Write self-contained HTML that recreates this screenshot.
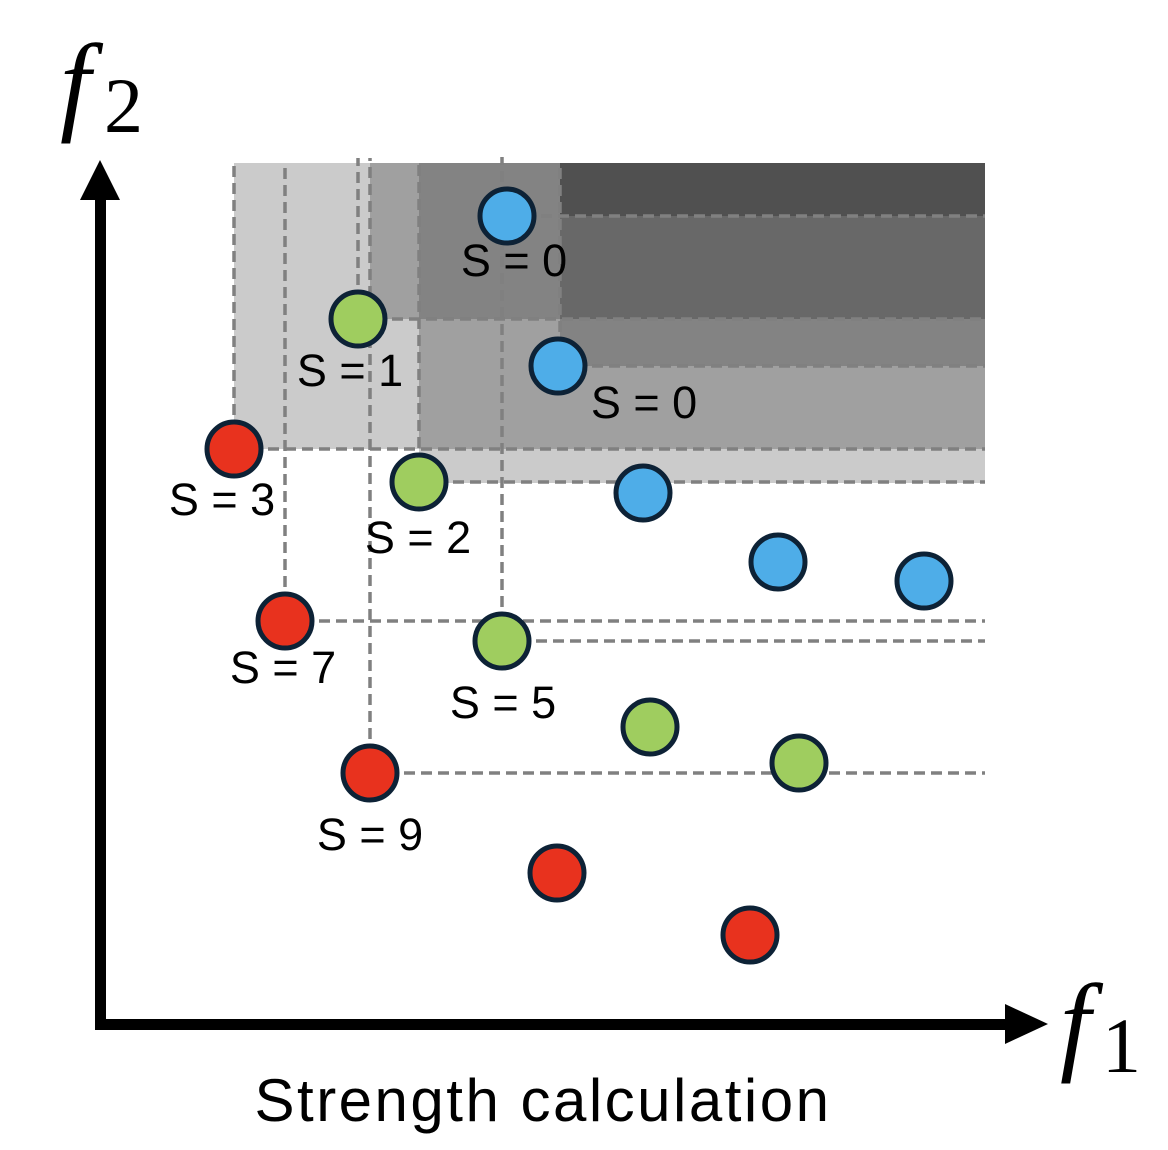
<!DOCTYPE html><html><head><style>body{margin:0;background:#fff}svg{display:block}</style></head><body>
<svg width="1168" height="1150" viewBox="0 0 1168 1150" xmlns="http://www.w3.org/2000/svg">
<g stroke="none">
<rect x="234" y="163" width="751" height="286" fill="#cbcbcb"/>
<rect x="419" y="449" width="566" height="34" fill="#cbcbcb"/>
<rect x="370" y="163" width="615" height="156" fill="#a0a0a0"/>
<rect x="419" y="319" width="566" height="130" fill="#a0a0a0"/>
<rect x="419" y="163" width="566" height="156" fill="#838383"/>
<rect x="560" y="319" width="425" height="47" fill="#838383"/>
<rect x="560" y="216" width="425" height="103" fill="#686868"/>
<rect x="560" y="163" width="425" height="53" fill="#505050"/>
</g>
<g stroke="#808080" stroke-width="3.5" stroke-dasharray="11,6" fill="none">
<line x1="234" y1="449" x2="234" y2="163"/>
<line x1="285" y1="621" x2="285" y2="163"/>
<line x1="358" y1="319" x2="358" y2="158"/>
<line x1="370" y1="773" x2="370" y2="158"/>
<line x1="502" y1="641" x2="502" y2="157"/>
<line x1="560" y1="366" x2="560" y2="163"/>
<line x1="419" y1="482" x2="419" y2="163"/>
<line x1="507" y1="216" x2="985" y2="216"/>
<line x1="358" y1="319" x2="985" y2="319"/>
<line x1="558" y1="366" x2="985" y2="366"/>
<line x1="234" y1="449" x2="985" y2="449"/>
<line x1="419" y1="482" x2="985" y2="482"/>
<line x1="285" y1="621" x2="985" y2="621"/>
<line x1="502" y1="641" x2="985" y2="641"/>
<line x1="370" y1="773" x2="985" y2="773"/>
</g>
<g stroke="#0d2236" stroke-width="5">
<g fill="#4eade8"><circle cx="507" cy="216" r="27"/><circle cx="558" cy="366" r="27"/><circle cx="643" cy="493" r="27"/><circle cx="778" cy="562" r="27"/><circle cx="924" cy="581" r="27"/></g>
<g fill="#9fcd5f"><circle cx="358" cy="319" r="27"/><circle cx="419" cy="482" r="27"/><circle cx="502" cy="641" r="27"/><circle cx="650" cy="727" r="27"/><circle cx="799" cy="763" r="27"/></g>
<g fill="#e8321e"><circle cx="234" cy="449" r="27"/><circle cx="285" cy="621" r="27"/><circle cx="370" cy="773" r="27"/><circle cx="557" cy="873" r="27"/><circle cx="750" cy="935" r="27"/></g>
</g>
<g font-family="Liberation Sans, sans-serif" font-size="45" fill="#000" text-anchor="middle">
<text x="514" y="276">S = 0</text>
<text x="644" y="418">S = 0</text>
<text x="350" y="386">S = 1</text>
<text x="222" y="515">S = 3</text>
<text x="418" y="553">S = 2</text>
<text x="283" y="683">S = 7</text>
<text x="503" y="718">S = 5</text>
<text x="370" y="850">S = 9</text>
<text x="543" y="1121" font-size="60" letter-spacing="2.5">Strength calculation</text>
</g>
<g fill="#000">
<rect x="95" y="195" width="11" height="835"/>
<rect x="95" y="1019" width="915" height="11"/>
<polygon points="100,160 80,200 120,200"/>
<polygon points="1048,1024 1005,1004 1005,1044"/>
</g>
<g font-family="Liberation Serif, serif" fill="#000">
<text x="60" y="120" font-size="110" font-style="italic">f</text>
<text x="104" y="132" font-size="78">2</text>
<text x="1060" y="1060" font-size="110" font-style="italic">f</text>
<text x="1102" y="1072" font-size="78">1</text>
</g>
</svg>
</body></html>
